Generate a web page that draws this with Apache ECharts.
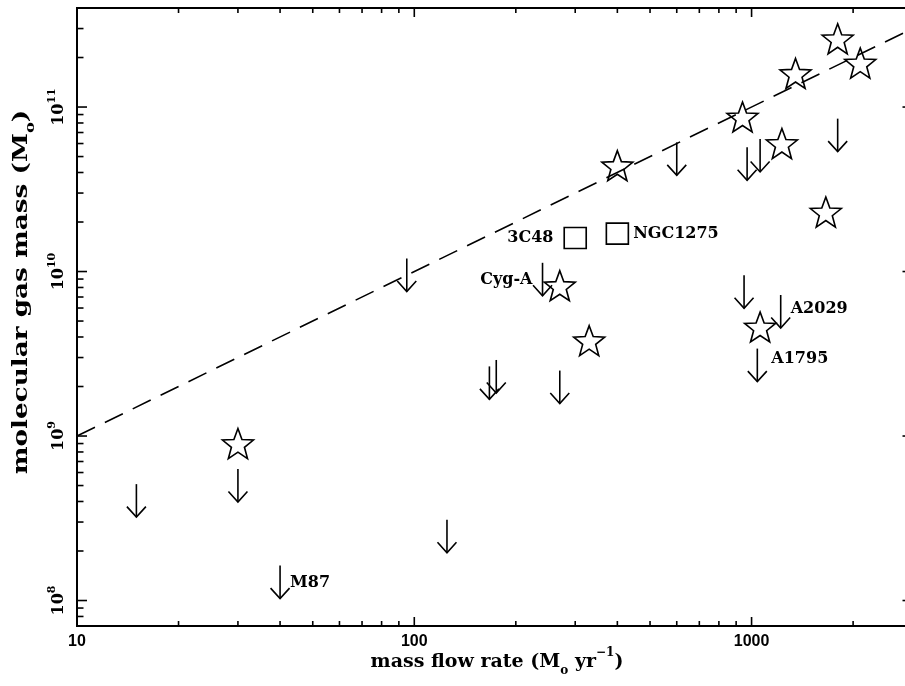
<!DOCTYPE html>
<html><head><meta charset="utf-8">
<script src="https://cdn.jsdelivr.net/npm/echarts/dist/echarts.min.js"></script>
<style>html,body{margin:0;padding:0;background:#fff;overflow:hidden;width:905px;height:686px}#c{width:920px;height:686px}</style>
</head><body><div id="c"></div>
<script>
// ---- data ----
const starX = [30, 270, 330, 400, 940, 1230, 1350, 1800, 2100, 1660, 1060];
const starY = [9.0e8, 8.2e9, 3.8e9, 4.4e10, 8.7e10, 6.0e10, 1.6e11, 2.6e11, 1.85e11, 2.3e10, 4.6e9];
const limitX = [15, 30, 40, 125, 95, 240, 167, 175, 270, 950, 1220, 1040, 600, 970, 1060, 1800];
const limitY = [5.1e8, 6.3e8, 1.63e8, 3.1e8, 1.2e10, 1.13e10, 2.65e9, 2.9e9, 2.5e9, 9.5e9, 7.2e9, 3.4e9, 6.1e10, 5.7e10, 6.4e10, 8.5e10];
const limitNames = ['', '', 'M87', '', '', 'Cyg-A', '', '', '', '', 'A2029', 'A1795', '', '', '', ''];
const boxX = [300, 400];
const boxY = [1.6e10, 1.7e10];
const boxNames = ['3C48', 'NGC1275'];
const fitX = [10, 3000];
const fitY = [1e9, 3e11];
const xMajor = [10, 100, 1000];
const xTickLabels = ['10', '100', '1000'];
const xMinor = [20,30,40,50,60,70,80,90,200,300,400,500,600,700,800,900,2000,3000];
const yMajor = [1e8, 1e9, 1e10, 1e11];
const yTickExp = ['8', '9', '10', '11'];
const yMinor = [8e7,9e7,2e8,3e8,4e8,5e8,6e8,7e8,8e8,9e8,2e9,3e9,4e9,5e9,6e9,7e9,8e9,9e9,
                2e10,3e10,4e10,5e10,6e10,7e10,8e10,9e10,2e11,3e11];
const xRange = [10, 3000];
const yRange = [7e7, 4e11];
const xTitle = 'mass flow rate (M{sub|o} yr{sup|−1})';
const yTitle = 'molecular gas mass (M{sub|o})';

// ---- styling ----
const SERIF = '"DejaVu Serif", "Liberation Serif", serif';
const SANS = '"Liberation Sans", Arial, sans-serif';
const LW = 1.6;
const starPath = 'path://M50,0 L62.34,33.01 L97.55,34.55 L69.97,56.49 L79.39,90.45 L50,71 L20.61,90.45 L30.03,56.49 L2.45,34.55 L37.66,33.01 Z';

const chart = echarts.init(document.getElementById('c'), null, {renderer: 'canvas', width: 920, height: 686});

function titleRich(size, sub) {
  return {
    t: {fontFamily: SERIF, fontWeight: 'bold', fontSize: size, lineHeight: 30, verticalAlign: 'middle', color: '#000'},
    sub: {fontFamily: SERIF, fontWeight: 'bold', fontSize: sub, lineHeight: sub, verticalAlign: 'bottom', color: '#000'},
    sup: {fontFamily: SERIF, fontWeight: 'bold', fontSize: sub, lineHeight: sub, verticalAlign: 'top', color: '#000'}
  };
}
function wrapT(s) {
  return s.split(/(\{[a-z]+\|[^}]*\})/).filter(Boolean).map(p => p[0] === '{' ? p : '{t|' + p + '}').join('');
}

const hidden = {axisLine:{show:false}, axisTick:{show:false}, axisLabel:{show:false}, splitLine:{show:false}, minorTick:{show:false}, minorSplitLine:{show:false}};

const option = {
  animation: false,
  backgroundColor: '#fff',
  grid: {left: 77, top: 8, width: 835.5, height: 618, show: true, borderColor: '#000', borderWidth: 2,
         backgroundColor: 'rgba(0,0,0,0)', outerBoundsMode: 'none', containLabel: false},
  xAxis: Object.assign({type: 'log', logBase: 10, min: xRange[0], max: xRange[1]}, hidden),
  yAxis: Object.assign({type: 'log', logBase: 10, min: yRange[0], max: yRange[1]}, hidden),
  graphic: [
    {type: 'text', x: 497, y: 662, style: {text: wrapT(xTitle), rich: titleRich(19, 12), align: 'center', verticalAlign: 'middle'}},
    {type: 'text', x: 22, y: 292, rotation: Math.PI / 2, scaleX: 1.25, style: {text: wrapT(yTitle), rich: titleRich(21, 13), align: 'center', verticalAlign: 'middle'}}
  ],
  series: [
    {
      type: 'custom', clip: false, silent: true,
      data: xMajor.map(v => [v, yRange[0], 1]).concat(xMinor.map(v => [v, yRange[0], 0])),
      renderItem: function (params, api) {
        const cs = params.coordSys;
        const p = api.coord([api.value(0), yRange[0]]);
        const major = api.value(2) === 1;
        const len = major ? 9 : 5;
        const b = cs.y + cs.height, t = cs.y;
        const children = [
          {type: 'line', shape: {x1: p[0], y1: b, x2: p[0], y2: b - len}, style: {stroke: '#000', lineWidth: LW}},
          {type: 'line', shape: {x1: p[0], y1: t, x2: p[0], y2: t + len}, style: {stroke: '#000', lineWidth: LW}}
        ];
        if (major) {
          children.push({type: 'text', x: p[0], y: b + 16, style: {text: xTickLabels[params.dataIndex], font: 'bold 16px ' + SANS, fill: '#000', align: 'center', verticalAlign: 'middle'}});
        }
        return {type: 'group', children: children};
      }
    },
    {
      type: 'custom', clip: false, silent: true,
      data: yMajor.map(v => [xRange[0], v, 1]).concat(yMinor.map(v => [xRange[0], v, 0])),
      renderItem: function (params, api) {
        const cs = params.coordSys;
        const p = api.coord([xRange[0], api.value(1)]);
        const major = api.value(2) === 1;
        const len = major ? 10 : 6.5;
        const l = cs.x, r = cs.x + cs.width;
        const children = [
          {type: 'line', shape: {x1: l, y1: p[1], x2: l + len, y2: p[1]}, style: {stroke: '#000', lineWidth: LW}},
          {type: 'line', shape: {x1: r, y1: p[1], x2: r - len, y2: p[1]}, style: {stroke: '#000', lineWidth: LW}}
        ];
        if (major) {
          const exp = yTickExp[params.dataIndex];
          children.push({type: 'text', x: l - 18, y: p[1], rotation: Math.PI / 2, style: {
            text: '{b|10}{s|' + exp + '}',
            rich: {
              b: {fontFamily: SERIF, fontWeight: 'bold', fontSize: 16, lineHeight: 24, verticalAlign: 'middle', fill: '#000'},
              s: {fontFamily: SERIF, fontWeight: 'bold', fontSize: 11, lineHeight: 11, verticalAlign: 'top', fill: '#000'}
            },
            align: 'center', verticalAlign: 'middle'}});
        }
        return {type: 'group', children: children};
      }
    },
    {
      type: 'line', data: fitX.map((x, i) => [x, fitY[i]]), symbol: 'none', silent: true,
      lineStyle: {color: '#000', width: LW, type: [20, 11]}
    },
    {
      type: 'scatter', data: starX.map((x, i) => [x, starY[i]]), symbol: starPath, symbolSize: [31, 30],
      itemStyle: {color: 'rgba(0,0,0,0)', borderColor: '#000', borderWidth: LW, opacity: 1}
    },
    {
      type: 'scatter', data: boxX.map((x, i) => ({value: [x, boxY[i]], name: boxNames[i],
        label: {show: true, position: i === 0 ? 'left' : 'right', distance: i === 0 ? 10 : 4, formatter: '{b}',
          fontFamily: SERIF, fontWeight: 'bold', fontSize: 16, color: '#000'}})),
      symbol: 'rect', symbolSize: [22, 21],
      itemStyle: {color: 'rgba(0,0,0,0)', borderColor: '#000', borderWidth: LW, opacity: 1}
    },
    {
      type: 'custom', clip: false,
      data: limitX.map((x, i) => [x, limitY[i]]),
      renderItem: function (params, api) {
        const p = api.coord([api.value(0), api.value(1)]);
        const L = 33, hw = 9.5, hh = 10.5;
        const children = [
          {type: 'line', shape: {x1: p[0], y1: p[1], x2: p[0], y2: p[1] + L}, style: {stroke: '#000', lineWidth: LW}},
          {type: 'polyline', shape: {points: [[p[0] - hw, p[1] + L - hh], [p[0], p[1] + L], [p[0] + hw, p[1] + L - hh]]}, style: {stroke: '#000', fill: null, lineWidth: LW}}
        ];
        const name = limitNames[params.dataIndex];
        if (name) {
          const left = name === 'Cyg-A';
          const dy = {'Cyg-A': 17, 'A2029': 14, 'A1795': 10, 'M87': 17}[name];
          children.push({type: 'text', x: left ? p[0] - 10 : p[0] + (name === 'A1795' ? 14 : 10), y: p[1] + dy,
            style: {text: name, font: 'bold 16px ' + SERIF, fill: '#000', align: left ? 'right' : 'left', verticalAlign: 'middle'}});
        }
        return {type: 'group', children: children};
      }
    }
  ]
};
chart.setOption(option);
</script></body></html>
